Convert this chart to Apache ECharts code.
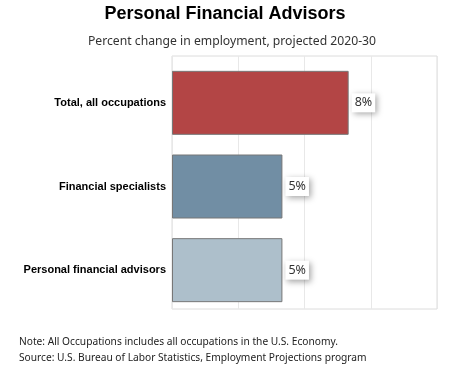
<!DOCTYPE html>
<html><head><meta charset="utf-8">
<script src="https://cdn.jsdelivr.net/npm/echarts@6/dist/echarts.min.js"></script>
<style>html,body{margin:0;padding:0;background:#fff}#c{width:451px;height:371px}</style>
</head><body><div id="c"></div>
<script>
const categories = ["Total, all occupations", "Financial specialists", "Personal financial advisors"];
const values = [8, 5, 5];
const labels = ["8%", "5%", "5%"];
const colors = ["#B34545", "#718EA4", "#ADBFCB"];
const xMin = 0, xMax = 12, xStep = 3;

const chart = echarts.init(document.getElementById('c'), null, {renderer: 'canvas'});
chart.setOption({
  animation: false,
  title: [
    {text: "Personal Financial Advisors", left: 220, top: 0, textAlign: 'center',
     textStyle: {fontFamily: 'Liberation Sans, Arial', fontWeight: 'bold', fontSize: 18, color: '#000'}},
    {text: "Percent change in employment, projected 2020-30", left: 227, top: 31, textAlign: 'center',
     textStyle: {fontFamily: 'Noto Sans', fontWeight: 'normal', fontSize: 12.2, color: '#333'}},
    {text: "Note: All Occupations includes all occupations in the U.S. Economy.\nSource: U.S. Bureau of Labor Statistics, Employment Projections program",
     left: 14, top: 329,
     textStyle: {fontFamily: 'Noto Sans', fontWeight: 'normal', fontSize: 10.2, lineHeight: 16, color: '#222'}}
  ],
  grid: [
    {left: 172, right: 14, top: 56, bottom: 62, show: true, borderColor: '#dcdcdc', borderWidth: 1},
    {left: 172, right: 14, top: 61, bottom: 59}
  ],
  xAxis: [
    {gridIndex: 0, type: 'value', min: xMin, max: xMax, interval: xStep,
     axisLabel: {show: false}, axisLine: {show: false}, axisTick: {show: false},
     splitLine: {show: true, lineStyle: {color: '#e8e8e8'}}},
    {gridIndex: 1, type: 'value', min: xMin, max: xMax, interval: xStep, show: false,
     splitLine: {show: false}}
  ],
  yAxis: [
    {gridIndex: 0, type: 'value', show: false, splitLine: {show: false}},
    {gridIndex: 1, type: 'category', data: categories, inverse: true,
     axisLine: {show: false}, axisTick: {show: false},
     axisLabel: {fontFamily: 'Liberation Sans, Arial', fontWeight: 'bold', fontSize: 11, color: '#000', margin: 6}}
  ],
  series: [{
    type: 'bar', xAxisIndex: 1, yAxisIndex: 1, barWidth: 64,
    data: values.map((v, i) => ({value: v, itemStyle: {color: colors[i]}})),
    itemStyle: {borderColor: '#777', borderWidth: 1},
    label: {show: true, position: 'right', distance: 3,
      formatter: p => labels[p.dataIndex],
      fontFamily: 'Noto Sans', fontSize: 12.5, color: '#333',
      backgroundColor: '#fff', padding: [3, 3, 3, 3],
      shadowColor: 'rgba(0,0,0,0.35)', shadowBlur: 6, shadowOffsetX: 2, shadowOffsetY: 2}
  }]
});
</script></body></html>
